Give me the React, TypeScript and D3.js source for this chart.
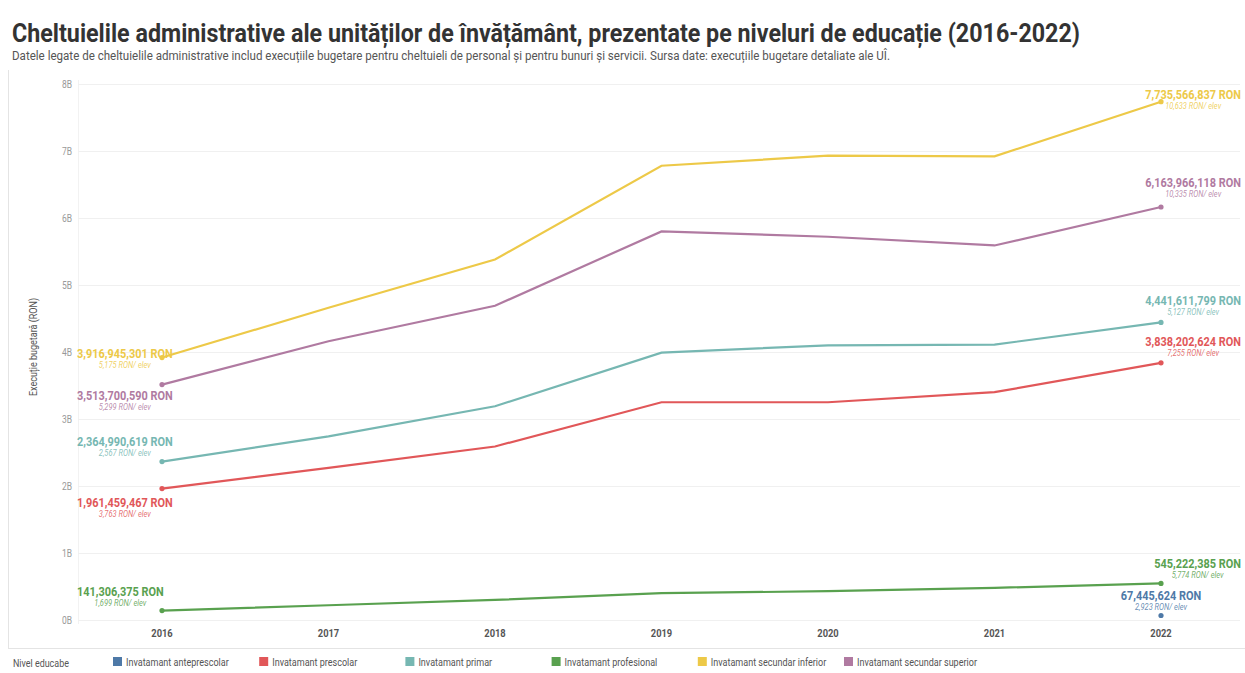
import * as d3 from "d3";
import { useEffect, useRef } from "react";

// chart data
const years = [2016, 2017, 2018, 2019, 2020, 2021, 2022];
const yTicks = [0, 1e9, 2e9, 3e9, 4e9, 5e9, 6e9, 7e9, 8e9];
const yTickLabels = ["0B", "1B", "2B", "3B", "4B", "5B", "6B", "7B", "8B"];

const seriesNames = [
  "Invatamant anteprescolar",
  "Invatamant prescolar",
  "Invatamant primar",
  "Invatamant profesional",
  "Invatamant secundar inferior",
  "Invatamant secundar superior",
];
const antepreescolar = [null, null, null, null, null, null, 67445624];
const prescolar = [1961459467, 2270000000, 2590000000, 3250000000, 3250000000, 3400000000, 3838202624];
const primar = [2364990619, 2740000000, 3190000000, 3990000000, 4100000000, 4110000000, 4441611799];
const profesional = [141306375, 220000000, 300000000, 400000000, 430000000, 480000000, 545222385];
const secundarInferior = [3916945301, 4660000000, 5380000000, 6780000000, 6930000000, 6920000000, 7735566837];
const secundarSuperior = [3513700590, 4160000000, 4690000000, 5800000000, 5720000000, 5590000000, 6163966118];
const perElevStart = [null, "3,763", "2,567", "1,699", "5,175", "5,299"];
const perElevEnd = ["2,923", "7,255", "5,127", "5,774", "10,633", "10,335"];

const colors = ["#4e79a7", "#e15759", "#76b7b2", "#59a14f", "#edc948", "#b07aa1"];

// label placement (baseline offsets from the point)
const startLabelDy = [0, 18, -16, -15, 0, 15];
const endLabelDy = [-15, -17, -17, -15, -3, -20];

const W = 1245;
const H = 673;
const FONT = "'Roboto', 'Liberation Sans', sans-serif";

// squeeze text horizontally to mimic a condensed face
const condense = (sel: d3.Selection<any, any, any, any>, f: number) =>
  sel.each(function () {
    const n = this as SVGTextElement;
    const w = n.getComputedTextLength();
    d3.select(n).attr("textLength", w * f).attr("lengthAdjust", "spacingAndGlyphs");
  });

const App = () => {
  const ref = useRef<SVGSVGElement | null>(null);

  useEffect(() => {
    if (!ref.current) return;
    document.body.style.margin = "0";

    const allSeries = [antepreescolar, prescolar, primar, profesional, secundarInferior, secundarSuperior];

    const x = d3.scalePoint<number>().domain(years).range([162, 1161]);
    const y = d3.scaleLinear().domain([0, 8e9]).range([620, 84]);
    const legendX = d3.scalePoint<string>().domain(seriesNames).range([113, 844]);

    const svg = d3.select(ref.current);
    svg.selectAll("*").remove();
    svg.attr("width", W).attr("height", H).style("font-family", FONT);

    svg.append("rect").attr("width", W).attr("height", H).attr("fill", "white");

    // title
    svg
      .append("text")
      .attr("x", 12)
      .attr("y", 42)
      .attr("font-size", 25)
      .attr("font-weight", "bold")
      .attr("fill", "#333")
      .attr("textLength", 1068)
      .attr("lengthAdjust", "spacingAndGlyphs")
      .text("Cheltuielile administrative ale unităților de învățământ, prezentate pe niveluri de educație (2016-2022)");
    svg
      .append("text")
      .attr("x", 12)
      .attr("y", 60)
      .attr("font-size", 12)
      .attr("fill", "#555")
      .attr("textLength", 878)
      .attr("lengthAdjust", "spacingAndGlyphs")
      .text(
        "Datele legate de cheltuielile administrative includ execuțiile bugetare pentru cheltuieli de personal și pentru bunuri și servicii. Sursa date: execuțiile bugetare detaliate ale UÎ."
      );

    // frame
    svg.append("line").attr("x1", 8.5).attr("x2", 8.5).attr("y1", 70).attr("y2", 648).attr("stroke", "#e4e4e4");
    svg.append("line").attr("x1", 8).attr("x2", W).attr("y1", 648.5).attr("y2", 648.5).attr("stroke", "#e4e4e4");
    svg.append("line").attr("x1", 78.5).attr("x2", 78.5).attr("y1", 80).attr("y2", 624).attr("stroke", "#f2f2f2");

    // grid + y ticks
    const grid = svg.append("g");
    grid
      .selectAll("line")
      .data(yTicks)
      .join("line")
      .attr("x1", 78)
      .attr("x2", 1240)
      .attr("y1", (d) => Math.round(y(d)) + 0.5)
      .attr("y2", (d) => Math.round(y(d)) + 0.5)
      .attr("stroke", "#f0f0f0");
    grid
      .selectAll("text")
      .data(yTicks)
      .join("text")
      .attr("x", 72)
      .attr("y", (d) => y(d) + 3.5)
      .attr("text-anchor", "end")
      .attr("font-size", 10)
      .attr("fill", "#999")
      .text((d, i) => yTickLabels[i])
      .call(condense, 0.85);

    // y title
    svg
      .append("text")
      .attr("transform", "translate(37,347) rotate(-90)")
      .attr("text-anchor", "middle")
      .attr("font-size", 10)
      .attr("fill", "#555")
      .text("Execuție bugetară (RON)")
      .call(condense, 0.9);

    // x labels
    svg
      .append("g")
      .selectAll("text")
      .data(years)
      .join("text")
      .attr("x", (d) => x(d)!)
      .attr("y", 637)
      .attr("text-anchor", "middle")
      .attr("font-size", 11)
      .attr("font-weight", "bold")
      .attr("fill", "#555")
      .text((d) => d)
      .call(condense, 0.85);

    // lines
    const line = d3
      .line<number | null>()
      .defined((d) => d != null)
      .x((d, i) => x(years[i])!)
      .y((d) => y(d as number));

    const lines = svg.append("g");
    allSeries.forEach((s, k) => {
      lines
        .append("path")
        .attr("d", line(s))
        .attr("fill", "none")
        .attr("stroke", colors[k])
        .attr("stroke-width", 2.2);
      const ends = [0, years.length - 1].filter((i) => s[i] != null);
      lines
        .selectAll(null)
        .data(ends)
        .join("circle")
        .attr("cx", (i) => x(years[i])!)
        .attr("cy", (i) => y(s[i] as number))
        .attr("r", 2.6)
        .attr("fill", colors[k]);
    });

    // value labels
    const fmt = d3.format(",");
    const labels = svg.append("g");
    const addLabel = (k: number, i: number, dy: number, anchor: "start" | "end" | "middle", ax: number, perElev: string) => {
      const v = allSeries[k][i] as number;
      const by = y(v) + dy;
      const main = labels
        .append("text")
        .attr("x", ax)
        .attr("y", by)
        .attr("text-anchor", anchor)
        .attr("font-size", 13)
        .attr("font-weight", "bold")
        .attr("fill", colors[k])
        .text(`${fmt(v)} RON`)
        .call(condense, 0.84);
      const w = +main.attr("textLength");
      const cx = anchor === "start" ? ax + w / 2 : anchor === "end" ? ax - w / 2 : ax;
      labels
        .append("text")
        .attr("x", cx)
        .attr("y", by + 10)
        .attr("text-anchor", "middle")
        .attr("font-size", 8.5)
        .attr("font-style", "italic")
        .attr("fill", colors[k])
        .attr("fill-opacity", 0.85)
        .text(`${perElev} RON/ elev`)
        .call(condense, 0.88);
    };

    allSeries.forEach((s, k) => {
      if (s[0] != null) addLabel(k, 0, startLabelDy[k], "start", x(years[0])! - 85, perElevStart[k] as string);
      const last = years.length - 1;
      if (k === 0) addLabel(k, last, endLabelDy[k], "middle", x(years[last])!, perElevEnd[k]);
      else addLabel(k, last, endLabelDy[k], "end", x(years[last])! + 80, perElevEnd[k]);
    });

    // legend
    const legend = svg.append("g");
    legend
      .append("text")
      .attr("x", 13)
      .attr("y", 667)
      .attr("font-size", 10.5)
      .attr("fill", "#555")
      .text("Nivel educabe")
      .call(condense, 0.85);
    const items = legend
      .selectAll("g")
      .data(seriesNames)
      .join("g")
      .attr("transform", (d) => `translate(${legendX(d)},0)`);
    items.append("rect").attr("x", 0).attr("y", 657).attr("width", 9).attr("height", 9).attr("fill", (d, i) => colors[i]);
    items
      .append("text")
      .attr("x", 13)
      .attr("y", 666)
      .attr("font-size", 10.5)
      .attr("fill", "#555")
      .text((d) => d)
      .call(condense, 0.86);
  }, []);

  return (
    <div style={{ position: "absolute", left: 0, top: 0 }}>
      <svg ref={ref} />
    </div>
  );
};

export default App;
